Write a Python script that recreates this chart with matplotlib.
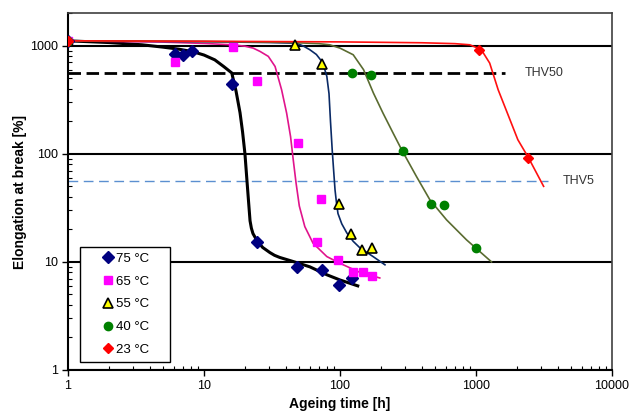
import matplotlib
matplotlib.use('Agg')
from matplotlib import pyplot as plt

plt.rcParams['font.family'] = ['Liberation Sans', 'DejaVu Sans']

# measured points (ageing time [h], elongation at break [%])
t75 = [1, 6.1, 7.0, 8.2, 16.1, 24.6, 48.3, 73.8, 98, 122]
e75 = [1110, 830, 820, 900, 445, 15.3, 9.0, 8.4, 6.1, 7.1]

t65 = [1, 6.1, 16.3, 24.6, 48.8, 67.8, 72.5, 96, 124, 147, 172]
e65 = [1110, 710, 980, 474, 127, 15.2, 38, 10.4, 8.1, 8.1, 7.4]

t55 = [1, 47, 73.8, 98, 120, 145, 172]
e55 = [1110, 1020, 680, 34, 18, 12.9, 13.5]

t40 = [1, 122, 170, 291, 464, 584, 1000]
e40 = [1110, 558, 540, 107, 34.4, 33.4, 13.4]

t23 = [1, 1050, 2430]
e23 = [1110, 918, 92]

# fitted curves
fit75_t = [1, 2, 3.5, 5, 6.5, 8.3, 10, 12, 14, 16, 17.2, 18.4, 19.2, 20, 20.7, 21.3, 21.8,
           22.3, 22.9, 24.6, 27, 30.5, 33, 36, 45, 60, 80, 100, 135]
fit75_e = [1110, 1070, 1020, 970, 930, 880, 820, 740, 640, 560, 380, 240, 160, 100, 56, 35, 24,
           20.5, 18.3, 15.6, 13.6, 12.2, 11.5, 11, 10.1, 9, 7.6, 6.8, 6.0]

fit65_t = [1, 5, 10, 16, 20, 23, 25.8, 29.7, 33.3, 37.2, 40.5, 43.3, 45.3, 47.5, 50.2, 55.1,
           63.3, 80, 100, 140, 196]
fit65_e = [1110, 1080, 1050, 1020, 990, 950, 886, 797, 643, 391, 238, 144, 88, 53.8, 32.9, 21.2,
           14.9, 11.2, 9.7, 8.0, 7.1]

fit55_t = [1, 10, 30, 48, 54, 60, 67, 73.5, 77, 80, 83, 85.1, 87.6, 89.7, 91.9, 94, 96.6, 103,
           112, 125, 140, 175, 214]
fit55_e = [1110, 1090, 1070, 1055, 990, 918, 830, 715, 610, 520, 360, 200, 109, 71, 46.4, 36, 28,
           22.5, 18.6, 15.5, 13.5, 11.2, 9.4]

fit40_t = [1, 10, 40, 70, 84, 100, 125, 149, 176, 207, 246, 284, 365, 458, 607, 851, 1300]
fit40_e = [1110, 1095, 1075, 1045, 1020, 950, 825, 600, 365, 238, 155, 109, 61.6, 37.5, 24.5,
           16, 10]

fit23_t = [1, 10, 100, 400, 700, 900, 1050, 1130, 1260, 1455, 1700, 2030, 2430, 3140]
fit23_e = [1110, 1100, 1085, 1065, 1045, 1020, 940, 860, 691, 391, 238, 135, 92, 50]

# threshold lines
thv50 = 560
thv50_end = 1630
thv5 = 56
thv5_end = 3400

fig = plt.figure(figsize=(6.32, 4.12), dpi=100)
ax = fig.add_axes([0.1076, 0.102, 0.8608, 0.866])

ax.set_xscale('log')
ax.set_yscale('log')
ax.set_xlim(1, 10000)
ax.set_ylim(1, 2000)

ax.yaxis.grid(True, which='major', color='black', lw=1.5, zorder=0)
ax.set_axisbelow(True)

ax.plot([1, thv50_end], [thv50, thv50], color='black', lw=2, ls=(0, (4.5, 2)), zorder=1)
ax.plot([1, thv5_end], [thv5, thv5], color='#5b8fd0', lw=1, ls=(0, (7, 4)), zorder=1)
ax.text(2290, thv50, 'THV50', fontsize=9, color='#333333', va='center')
ax.text(4360, thv5, 'THV5', fontsize=9, color='#333333', va='center')

ax.plot(fit75_t, fit75_e, color='black', lw=2.2, zorder=2)
ax.plot(fit65_t, fit65_e, color='#e0148c', lw=1.2, zorder=2)
ax.plot(fit55_t, fit55_e, color='#0a2a66', lw=1.2, zorder=2)
ax.plot(fit40_t, fit40_e, color='#5a6b30', lw=1.2, zorder=2)
ax.plot(fit23_t, fit23_e, color='#ff1010', lw=1.2, zorder=2)

ax.plot(t75, e75, ls='none', marker='D', ms=6, color='#000080', label='75 °C    ', zorder=3)
ax.plot(t65, e65, ls='none', marker='s', ms=6, color='#ff00ff', label='65 °C    ', zorder=3)
ax.plot(t55, e55, ls='none', marker='^', ms=7.5, mfc='#ffff00', mec='black', mew=1.2,
        label='55 °C    ', zorder=3)
ax.plot(t40, e40, ls='none', marker='o', ms=6, color='#008000', label='40 °C    ', zorder=3)
ax.plot(t23, e23, ls='none', marker='D', ms=5, color='#ff0000', label='23 °C    ', zorder=3)

leg = ax.legend(loc='lower left', bbox_to_anchor=(0.022, 0.0224), fontsize=9.5,
                frameon=True, fancybox=False, edgecolor='black', handlelength=3.3,
                handletextpad=-1.0, labelspacing=0.8, borderpad=0.45, borderaxespad=0,
                framealpha=1)
leg.get_frame().set_linewidth(1)

ax.set_xticks([1, 10, 100, 1000, 10000])
ax.set_xticklabels(['1', '10', '100', '1000', '10000'])
ax.set_yticks([1, 10, 100, 1000])
ax.set_yticklabels(['1', '10', '100', '1000'])
ax.tick_params(which='major', direction='out', length=4, width=1, labelsize=9)
ax.tick_params(which='minor', direction='in', length=3, width=0.8)

for s in ['left', 'bottom']:
    ax.spines[s].set_linewidth(1.5)
for s in ['top', 'right']:
    ax.spines[s].set_linewidth(1.2)
    ax.spines[s].set_color('#404040')

ax.set_xlabel('Ageing time [h]', fontsize=10, fontweight='bold', labelpad=3)
ax.set_ylabel('Elongation at break [%]', fontsize=10, fontweight='bold', labelpad=2)

fig.savefig('out.png', dpi=100)
